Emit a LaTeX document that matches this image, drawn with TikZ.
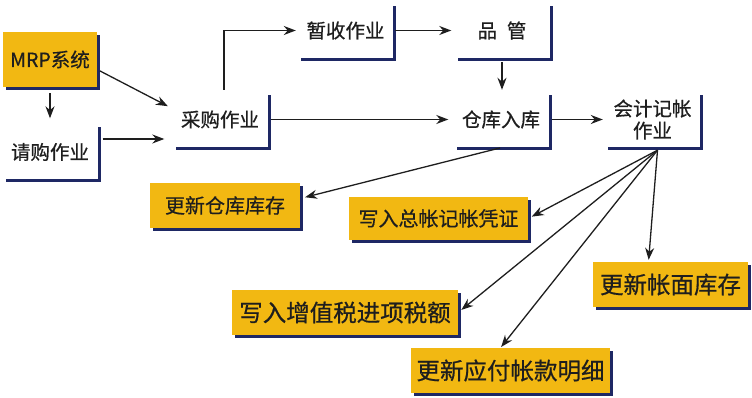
\documentclass[tikz,border=0pt]{standalone}
\usepackage{fontspec}
\setmainfont[FakeBold=0.6]{Noto Sans CJK SC}
\usetikzlibrary{shadows,arrows.meta}
\definecolor{boxyellow}{RGB}{242,184,18}
\definecolor{shadownavy}{RGB}{30,40,100}
\definecolor{inkdark}{RGB}{30,30,30}
\begin{document}
\begin{tikzpicture}[x=1pt, y=-1pt,
        navyshadow/.style={drop shadow={shadow xshift=3pt, shadow yshift=-3pt, fill=shadownavy, opacity=1}},
        whitebox/.style={navyshadow, fill=white, inner sep=0pt, minimum width=95pt, minimum height=55pt, text=inkdark, font=\fontsize{19.5}{22}\selectfont},
        yellowbox/.style={navyshadow, fill=boxyellow, inner sep=0pt, minimum height=45pt, text=inkdark, font=\fontsize{20}{22}\selectfont},
        bigtext/.style={font=\fontsize{23.5}{26}\selectfont},
        flow/.style={-{Stealth[length=12pt, width=9pt]}, line width=1.3pt, draw=inkdark}]
        \useasboundingbox (0,0) rectangle (752,398);
        \node[yellowbox, minimum width=94pt, minimum height=55pt, font=\fontsize{19.5}{22}\selectfont] (mrp) at (50,59.5) {MRP系统};
        \node[whitebox] (qinggou) at (50,152) {请购作业};
        \node[whitebox] (caigou) at (220,119.5) {采购作业};
        \node[whitebox] (zanshou) at (345.5,30.5) {暂收作业};
        \node[whitebox] (pinguan) at (502,30.5) {品\hspace{0.5em}管};
        \node[whitebox] (ruku) at (501,119.5) {仓库入库};
        \node[whitebox, align=center] (jizhang) at (652.5,119.5) {会计记帐\\作业};
        \node[yellowbox, minimum width=150pt] (kucun) at (225,205.5) {更新仓库库存};
        \node[yellowbox, minimum width=179pt, minimum height=43pt] (pingzheng) at (438.5,218.5) {写入总帐记帐凭证};
        \node[yellowbox, bigtext, minimum width=226pt] (shuie) at (345,312.5) {写入增值税进项税额};
        \node[yellowbox, bigtext, minimum width=199pt] (mingxi) at (510.5,370.5) {更新应付帐款明细};
        \node[yellowbox, bigtext, minimum width=155pt] (zhangmian) at (670.5,284.5) {更新帐面库存};
        \coordinate (fan) at ([shift={(5pt,-3pt)}]jizhang.south);
        \draw[flow, shorten <=6pt, shorten >=6pt] (mrp) -- (qinggou);
        \draw[flow, shorten <=3pt, shorten >=5pt] ([yshift=-10pt]mrp.east) -- ([yshift=11pt]caigou.west);
        \draw[flow, shorten <=5pt, shorten >=8pt] ([yshift=13pt]qinggou.east) -- ([yshift=13pt]qinggou.east -| caigou.west);
        \draw[flow, shorten <=2pt, shorten >=2pt] ([xshift=4pt]caigou.north) |- (zanshou.west);
        \draw[flow, shorten <=2pt, shorten >=3pt] (zanshou) -- (pinguan);
        \draw[flow, shorten <=4pt, shorten >=2pt] (pinguan.south) -- (pinguan.south |- ruku.north);
        \draw[flow, shorten <=3pt, shorten >=5pt] (caigou) -- (ruku);
        \draw[flow, shorten <=3pt, shorten >=2pt] (ruku) -- (jizhang);
        \draw[flow, shorten <=3pt, shorten >=5pt] ([xshift=2pt]ruku.south) -- ([yshift=7pt]kucun.east);
        \draw[flow, shorten >=4pt] (fan) -- (pingzheng.east);
        \draw[flow, shorten >=4pt] (fan) -- (shuie.east);
        \draw[flow, shorten >=1pt] (fan) -- ([xshift=-10pt]mingxi.north);
        \draw[flow, shorten >=2pt] (fan) -- ([xshift=-22pt]zhangmian.north);
    \end{tikzpicture}
\end{document}
